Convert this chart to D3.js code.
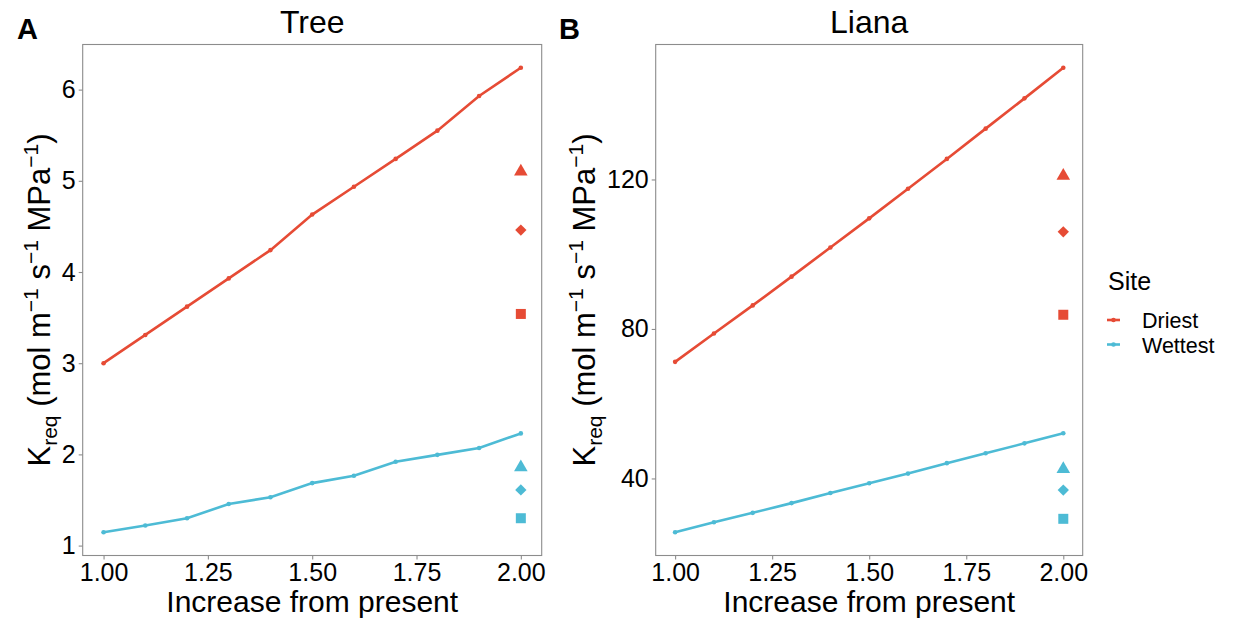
<html>
<head>
  <meta charset="utf-8">
  <script src="https://d3js.org/d3.v7.min.js"></script>
  <style>
    body { margin: 0; background: white; }
    text { font-family: "Liberation Sans", Arial, sans-serif; fill: black; }
  </style>
  <script>
    // chart values
    var increase = [1.0, 1.1, 1.2, 1.3, 1.4, 1.5, 1.6, 1.7, 1.8, 1.9, 2.0];
    var treeDriest  = [3.00, 3.31, 3.62, 3.93, 4.24, 4.63, 4.935, 5.24, 5.55, 5.93, 6.24];
    var treeWettest = [1.146, 1.22, 1.30, 1.456, 1.53, 1.685, 1.765, 1.92, 1.995, 2.07, 2.23];
    var lianaDriest  = [71.2, 78.8, 86.3, 94.0, 101.8, 109.6, 117.5, 125.5, 133.6, 141.7, 149.9];
    var lianaWettest = [25.6, 28.3, 30.8, 33.4, 36.1, 38.7, 41.3, 44.1, 46.75, 49.4, 52.1];
    // extra points at x = 2 : triangle, diamond, square
    var markerX = 2.0;
    var markerShapes = ["triangle", "diamond", "square"];
    var treeDriestMarks  = [5.10, 4.46, 3.54];
    var treeWettestMarks = [1.857, 1.61, 1.30];
    var lianaDriestMarks  = [121.0, 106.0, 83.8];
    var lianaWettestMarks = [42.5, 36.9, 29.2];
    var xTicks = [1.00, 1.25, 1.50, 1.75, 2.00];
    var treeTicks = [1, 2, 3, 4, 5, 6];
    var lianaTicks = [40, 80, 120];
    var sites = ["Driest", "Wettest"];
    var colors = ["#E64B35", "#4DBBD5"];

    function expand(vals) {
        var e = d3.extent(vals), pad = (e[1] - e[0]) * 0.05;
        return [e[0] - pad, e[1] + pad];
    }

    function panel(svg, o) {
        var g = svg.append("g");
        var scX = d3.scaleLinear().domain(expand(increase)).range([o.x0, o.x1]);
        var all = [].concat(o.series[0], o.series[1], o.marks[0], o.marks[1]);
        var scY = d3.scaleLinear().domain(expand(all)).range([o.y1, o.y0]);

        g.append("rect").attr("x", o.x0).attr("y", o.y0)
            .attr("width", o.x1 - o.x0).attr("height", o.y1 - o.y0)
            .attr("fill", "white").attr("stroke", "#8c8c8c").attr("stroke-width", 1.1);

        var ax = g.append("g").attr("transform", "translate(0," + o.y1 + ")")
            .call(d3.axisBottom(scX).tickValues(xTicks).tickFormat(d3.format(".2f")).tickSize(4).tickPadding(4));
        var ay = g.append("g").attr("transform", "translate(" + o.x0 + ",0)")
            .call(d3.axisLeft(scY).tickValues(o.ticks).tickFormat(d3.format("d")).tickSize(4).tickPadding(3));
        [ax, ay].forEach(a => {
            a.select(".domain").remove();
            a.selectAll(".tick line").attr("stroke", "#8c8c8c").attr("stroke-width", 1.1);
            a.selectAll(".tick text").attr("font-size", 25).attr("fill", "black")
                .style("font-family", "'Liberation Sans', Arial, sans-serif");
        });

        var line = d3.line().x((d, i) => scX(increase[i])).y(d => scY(d));
        o.series.forEach((s, k) => {
            g.append("path").attr("d", line(s)).attr("fill", "none")
                .attr("stroke", colors[k]).attr("stroke-width", 2.6);
            g.selectAll(null).data(s).enter().append("circle")
                .attr("cx", (d, i) => scX(increase[i])).attr("cy", d => scY(d))
                .attr("r", 2.3).attr("fill", colors[k]);
            g.selectAll(null).data(o.marks[k]).enter().append("path")
                .attr("d", (d, i) => {
                    var sh = markerShapes[i];
                    if (sh == "triangle") return d3.symbol(d3.symbolTriangle, 80)();
                    if (sh == "diamond") return d3.symbol(d3.symbolSquare, 64)();
                    return d3.symbol(d3.symbolSquare, 100)();
                })
                .attr("transform", (d, i) => "translate(" + scX(markerX) + "," + scY(d) + ")" +
                    (markerShapes[i] == "diamond" ? " rotate(45)" : ""))
                .attr("fill", colors[k]);
        });

        var cx = (o.x0 + o.x1) / 2;
        g.append("text").attr("x", cx).attr("y", 33).attr("text-anchor", "middle")
            .attr("font-size", 32).text(o.title);
        g.append("text").attr("x", o.tagX).attr("y", 39)
            .attr("font-size", 29).attr("font-weight", "bold").text(o.tag);
        g.append("text").attr("x", cx).attr("y", 612).attr("text-anchor", "middle")
            .attr("font-size", 30).text("Increase from present");

        var yt = g.append("text").attr("text-anchor", "middle").attr("font-size", 31)
            .attr("transform", "translate(" + o.titleX + ",300) rotate(-90)");
        yt.append("tspan").text("K");
        yt.append("tspan").attr("font-size", 21).attr("baseline-shift", "-7").text("req");
        yt.append("tspan").text(" (mol m");
        yt.append("tspan").attr("font-size", 21).attr("baseline-shift", "12").text("\u22121");
        yt.append("tspan").text(" s");
        yt.append("tspan").attr("font-size", 21).attr("baseline-shift", "12").text("\u22121");
        yt.append("tspan").text(" MPa");
        yt.append("tspan").attr("font-size", 21).attr("baseline-shift", "12").text("\u22121");
        yt.append("tspan").text(")");
    }

    function makeGraph() {
        var svg = d3.select("#graph");
        panel(svg, { x0: 82.7, x1: 541.7, y0: 44.5, y1: 555.5, ticks: treeTicks,
            series: [treeDriest, treeWettest], marks: [treeDriestMarks, treeWettestMarks],
            title: "Tree", tag: "A", tagX: 17, titleX: 50 });
        panel(svg, { x0: 655.7, x1: 1082.7, y0: 44.5, y1: 555.5, ticks: lianaTicks,
            series: [lianaDriest, lianaWettest], marks: [lianaDriestMarks, lianaWettestMarks],
            title: "Liana", tag: "B", tagX: 559, titleX: 595 });

        // legend
        var lg = svg.append("g");
        lg.append("text").attr("x", 1108).attr("y", 290).attr("font-size", 25).text("Site");
        sites.forEach((s, i) => {
            var y = 320 + i * 24.5;
            lg.append("line").attr("x1", 1107).attr("x2", 1120).attr("y1", y).attr("y2", y)
                .attr("stroke", colors[i]).attr("stroke-width", 2.6);
            lg.append("circle").attr("cx", 1113.5).attr("cy", y).attr("r", 2.3).attr("fill", colors[i]);
            lg.append("text").attr("x", 1142).attr("y", y + 8).attr("font-size", 21.5).text(s);
        });
    }
  </script>
</head>
<body onload="makeGraph()">
  <svg id="graph" width="1247" height="621"></svg>
</body>
</html>
